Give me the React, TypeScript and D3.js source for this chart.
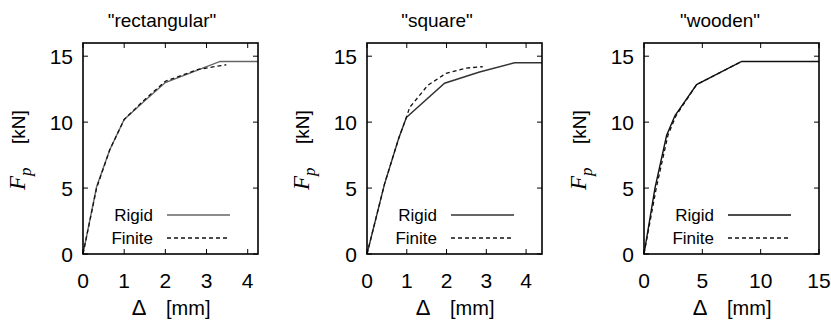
import React from "react";
import * as d3 from "d3";

// panel titles and axis extents
const titles = ['"rectangular"', '"square"', '"wooden"'];
const xMaxes = [4.25, 4.4, 15];
const xTicks = [[0, 1, 2, 3, 4], [0, 1, 2, 3, 4], [0, 5, 10, 15]];
const yTicks = [0, 5, 10, 15];
const yMax = 16;

// [displacement mm, force kN]
const rectRigid: [number, number][] = [[0, 0], [0.33, 5.1], [0.65, 7.9], [1.0, 10.2], [1.46, 11.5], [2.0, 13.0], [3.33, 14.6], [4.25, 14.6]];
const rectFinite: [number, number][] = [[0, 0], [0.33, 5.0], [0.65, 7.9], [1.0, 10.2], [1.46, 11.6], [2.0, 13.1], [2.8, 14.0], [3.48, 14.35]];
const squareRigid: [number, number][] = [[0, 0], [0.44, 5.3], [0.8, 8.8], [0.99, 10.35], [1.95, 12.95], [2.83, 13.8], [3.71, 14.5], [4.4, 14.5]];
const squareFinite: [number, number][] = [[0, 0], [0.44, 5.3], [0.8, 8.8], [0.99, 10.35], [1.07, 11.1], [1.53, 12.8], [1.99, 13.7], [2.5, 14.1], [2.91, 14.2]];
const woodRigid: [number, number][] = [[0, 0], [0.94, 5.0], [1.94, 9.0], [2.66, 10.5], [4.51, 12.85], [8.37, 14.6], [15, 14.6]];
const woodFinite: [number, number][] = [[0, 0], [1.05, 5.0], [2.05, 9.0], [2.75, 10.5], [4.51, 12.85], [8.37, 14.6]];

const rigidSeries = [rectRigid, squareRigid, woodRigid];
const finiteSeries = [rectFinite, squareFinite, woodFinite];
const rigidColors = ["#666", "#333", "#111"];

const lefts = [83, 367, 644];
const titleX = [162, 437, 720];
const panelW = 175;
const top = 43;
const bottom = 254;
const font = "'Liberation Sans', Arial, Helvetica, sans-serif";

function Panel({ i }: { i: number }) {
  const left = lefts[i];
  const x = d3.scaleLinear().domain([0, xMaxes[i]]).range([left, left + panelW]);
  const y = d3.scaleLinear().domain([0, yMax]).range([bottom, top]);
  const line = d3.line<[number, number]>().x((d) => x(d[0])).y((d) => y(d[1]));
  const tl = 5;

  return (
    <g>
      <text x={titleX[i]} y={27} fontSize={19} textAnchor="middle" fontFamily={font}>
        {titles[i]}
      </text>

      {/* curves */}
      <path d={line(rigidSeries[i]) || ""} fill="none" stroke={rigidColors[i]} strokeWidth={1.4} />
      <path d={line(finiteSeries[i]) || ""} fill="none" stroke="#111" strokeWidth={1.3} strokeDasharray="4,3" />

      {/* frame */}
      <rect x={left} y={top} width={panelW} height={bottom - top} fill="none" stroke="#000" strokeWidth={1.6} />

      {/* ticks, mirrored and pointing inward */}
      {xTicks[i].map((t) => (
        <g key={"x" + t}>
          <line x1={x(t)} x2={x(t)} y1={bottom} y2={bottom - tl} stroke="#000" />
          <line x1={x(t)} x2={x(t)} y1={top} y2={top + tl} stroke="#000" />
          <text x={x(t)} y={288} fontSize={21} textAnchor="middle" fontFamily={font}>
            {t}
          </text>
        </g>
      ))}
      {yTicks.map((t) => (
        <g key={"y" + t}>
          <line x1={left} x2={left + tl} y1={y(t)} y2={y(t)} stroke="#000" />
          <line x1={left + panelW} x2={left + panelW - tl} y1={y(t)} y2={y(t)} stroke="#000" />
          <text x={left - 10} y={y(t)} dy="0.36em" fontSize={21} textAnchor="end" fontFamily={font}>
            {t}
          </text>
        </g>
      ))}

      {/* axis labels */}
      <text x={left + 56} y={315} fontSize={22} textAnchor="middle" fontFamily={font}>
        Δ
      </text>
      <text x={left + 83} y={315} fontSize={20} fontFamily={font}>
        [mm]
      </text>
      <g transform={`translate(${left - 58},150) rotate(-90)`}>
        <text x={-40} y={0} fontSize={23} fontStyle="italic" fontFamily="'Liberation Serif', 'Times New Roman', serif">
          F
          <tspan fontSize={17} dy={6}>p</tspan>
        </text>
        <text x={6} y={0} fontSize={19} fontFamily={font}>
          [kN]
        </text>
      </g>

      {/* legend */}
      <text x={left + 70} y={215} dy="0.35em" fontSize={17} textAnchor="end" fontFamily={font}>
        Rigid
      </text>
      <line x1={left + 84} x2={left + 147} y1={215} y2={215} stroke={rigidColors[i]} strokeWidth={1.4} />
      <text x={left + 70} y={238} dy="0.35em" fontSize={17} textAnchor="end" fontFamily={font}>
        Finite
      </text>
      <line x1={left + 84} x2={left + 147} y1={238} y2={238} stroke="#111" strokeWidth={1.3} strokeDasharray="4,3" />
    </g>
  );
}

export default function App() {
  return (
    <svg width={831} height={322} style={{ position: "absolute", left: 0, top: 0, background: "#fff" }}>
      {[0, 1, 2].map((i) => (
        <Panel key={i} i={i} />
      ))}
    </svg>
  );
}
